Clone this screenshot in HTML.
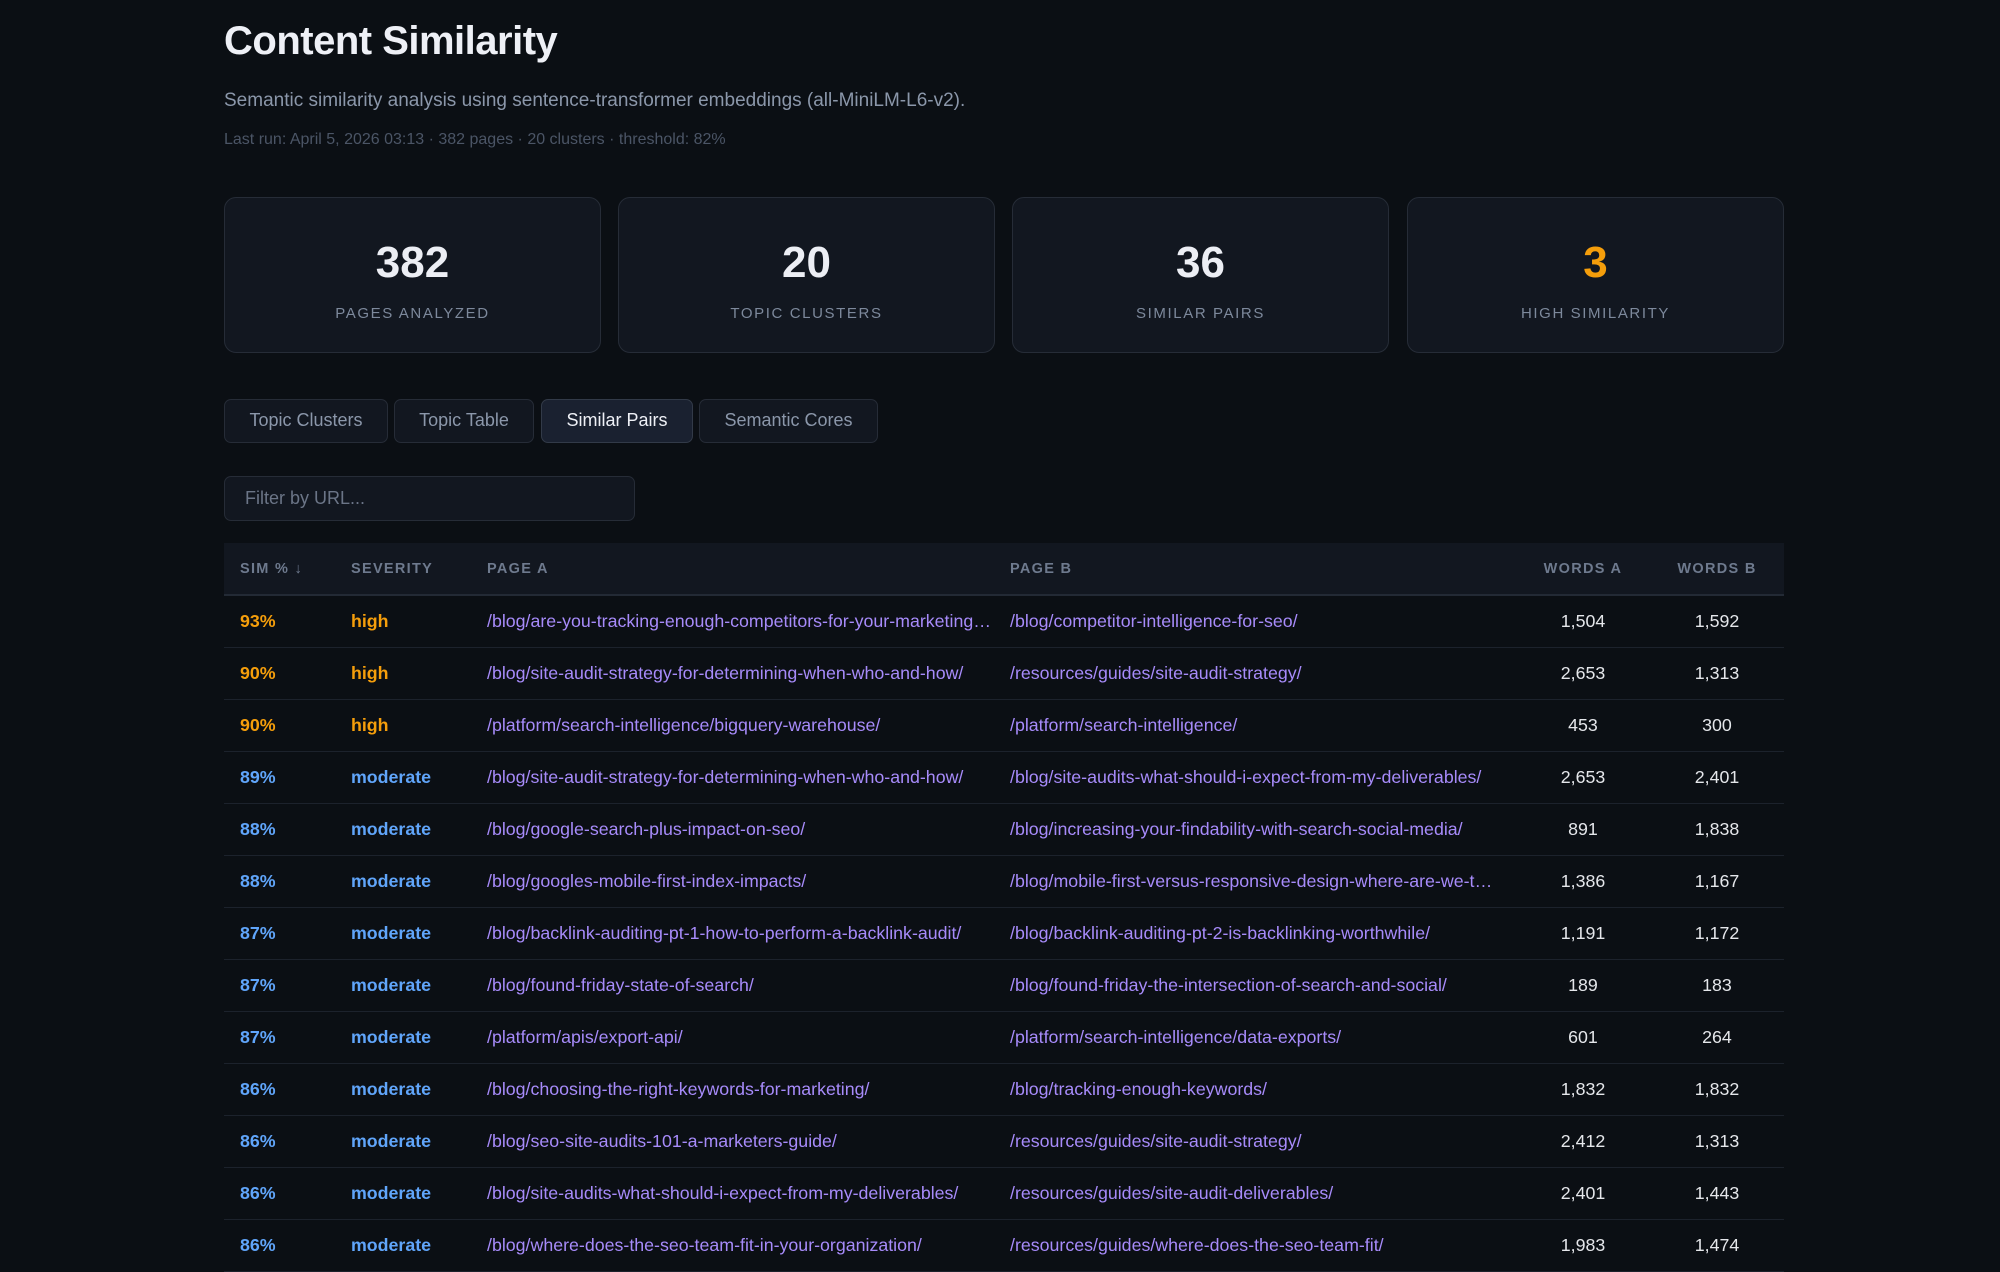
<!DOCTYPE html>
<html><head><meta charset="utf-8">
<style>
*{box-sizing:border-box;margin:0;padding:0}
body{width:2000px;height:1265px;overflow:hidden;background:#0b0f14;font-family:"Liberation Sans",Arial,sans-serif;color:#e5e7eb;position:relative}
.abs{position:absolute}
h1{position:absolute;left:224px;top:19px;font-size:40px;font-weight:700;color:#eef0f6;letter-spacing:-0.5px}
.sub{left:224px;top:90px;font-size:19px;color:#8b97aa}
.meta{left:224px;top:131px;font-size:16px;color:#4b5566}
.card{position:absolute;top:197px;width:377px;height:156px;background:#121720;border:1.5px solid #262c37;border-radius:12px;text-align:center}
.card .n{position:absolute;left:0;right:0;top:40px;font-size:44px;font-weight:700;color:#eceef4}
.card .l{position:absolute;left:0;right:0;top:107px;font-size:15px;letter-spacing:1.6px;color:#7d899c}
.tab{position:absolute;top:399px;height:44px;background:#121720;border:1.5px solid #262c37;border-radius:7px;font-size:18px;color:#8b97aa;text-align:center;line-height:41px}
.tab.on{background:#1a2130;color:#eef0f6;border-color:#323a48}
.filter{left:224px;top:476px;width:411px;height:45px;background:#121720;border:1.5px solid #262c37;border-radius:7px;font-size:18px;color:#6b7587;padding-left:20px;line-height:42px}
table{position:absolute;left:224px;top:543px;width:1560px;border-collapse:collapse;table-layout:fixed}
th{height:52px;background:#121720;font-size:14.5px;font-weight:700;letter-spacing:1.3px;color:#6e7a8e;text-align:left;border-bottom:2px solid #232a35}
td{height:52px;font-size:17.8px;border-bottom:1.5px solid #1c222c;white-space:nowrap;overflow:hidden;text-overflow:ellipsis}
th:first-child,td:first-child{padding-left:16px}
.c{text-align:center}
.url{color:#a78bfa;padding-right:14px}
.hi{color:#f59e0b;font-weight:700}
.mo{color:#60a5fa;font-weight:700}
.w{color:#e5e7eb}
</style></head><body>
<h1>Content Similarity</h1>
<div class="abs sub">Semantic similarity analysis using sentence-transformer embeddings (all-MiniLM-L6-v2).</div>
<div class="abs meta">Last run: April 5, 2026 03:13 · 382 pages · 20 clusters · threshold: 82%</div>

<div class="card" style="left:224px"><div class="n">382</div><div class="l">PAGES ANALYZED</div></div>
<div class="card" style="left:618px"><div class="n">20</div><div class="l">TOPIC CLUSTERS</div></div>
<div class="card" style="left:1012px"><div class="n">36</div><div class="l">SIMILAR PAIRS</div></div>
<div class="card" style="left:1407px"><div class="n" style="color:#f59e0b">3</div><div class="l">HIGH SIMILARITY</div></div>

<div class="tab" style="left:224px;width:164px">Topic Clusters</div>
<div class="tab" style="left:394px;width:140px">Topic Table</div>
<div class="tab on" style="left:541px;width:152px">Similar Pairs</div>
<div class="tab" style="left:699px;width:179px">Semantic Cores</div>

<div class="abs filter">Filter by URL...</div>

<table>
<colgroup><col style="width:127px"><col style="width:136px"><col style="width:523px"><col style="width:506px"><col style="width:134px"><col style="width:134px"></colgroup>
<thead><tr>
<th>SIM % ↓</th><th>SEVERITY</th><th>PAGE A</th><th>PAGE B</th><th class="c">WORDS A</th><th class="c">WORDS B</th></tr></thead>
<tbody id="tb"></tbody></table>
<script>
const sims=[93,90,90,89,88,88,87,87,87,86,86,86,86];
const pageA=["/blog/are-you-tracking-enough-competitors-for-your-marketing-strategy/","/blog/site-audit-strategy-for-determining-when-who-and-how/","/platform/search-intelligence/bigquery-warehouse/","/blog/site-audit-strategy-for-determining-when-who-and-how/","/blog/google-search-plus-impact-on-seo/","/blog/googles-mobile-first-index-impacts/","/blog/backlink-auditing-pt-1-how-to-perform-a-backlink-audit/","/blog/found-friday-state-of-search/","/platform/apis/export-api/","/blog/choosing-the-right-keywords-for-marketing/","/blog/seo-site-audits-101-a-marketers-guide/","/blog/site-audits-what-should-i-expect-from-my-deliverables/","/blog/where-does-the-seo-team-fit-in-your-organization/"];
const pageB=["/blog/competitor-intelligence-for-seo/","/resources/guides/site-audit-strategy/","/platform/search-intelligence/","/blog/site-audits-what-should-i-expect-from-my-deliverables/","/blog/increasing-your-findability-with-search-social-media/","/blog/mobile-first-versus-responsive-design-where-are-we-today/","/blog/backlink-auditing-pt-2-is-backlinking-worthwhile/","/blog/found-friday-the-intersection-of-search-and-social/","/platform/search-intelligence/data-exports/","/blog/tracking-enough-keywords/","/resources/guides/site-audit-strategy/","/resources/guides/site-audit-deliverables/","/resources/guides/where-does-the-seo-team-fit/"];
const wordsA=[1504,2653,453,2653,891,1386,1191,189,601,1832,2412,2401,1983];
const wordsB=[1592,1313,300,2401,1838,1167,1172,183,264,1832,1313,1443,1474];
const tb=document.getElementById('tb');
sims.forEach((s,i)=>{
  const tr=document.createElement('tr');
  
  
  const cls=s>=90?'hi':'mo';
  const sev=s>=90?'high':'moderate';
  const cells=[[s+'%',cls,'sim-value'],[sev,cls,'severity-value'],[pageA[i],'url','page-a-link'],[pageB[i],'url','page-b-link'],[wordsA[i].toLocaleString('en-US'),'w c','words-a-value'],[wordsB[i].toLocaleString('en-US'),'w c','words-b-value']];
  cells.forEach(c=>{
    const td=document.createElement('td');
    td.textContent=c[0];td.className=c[1];
    
    
    tr.appendChild(td);
  });
  tb.appendChild(tr);
});
</script>
</body></html>
